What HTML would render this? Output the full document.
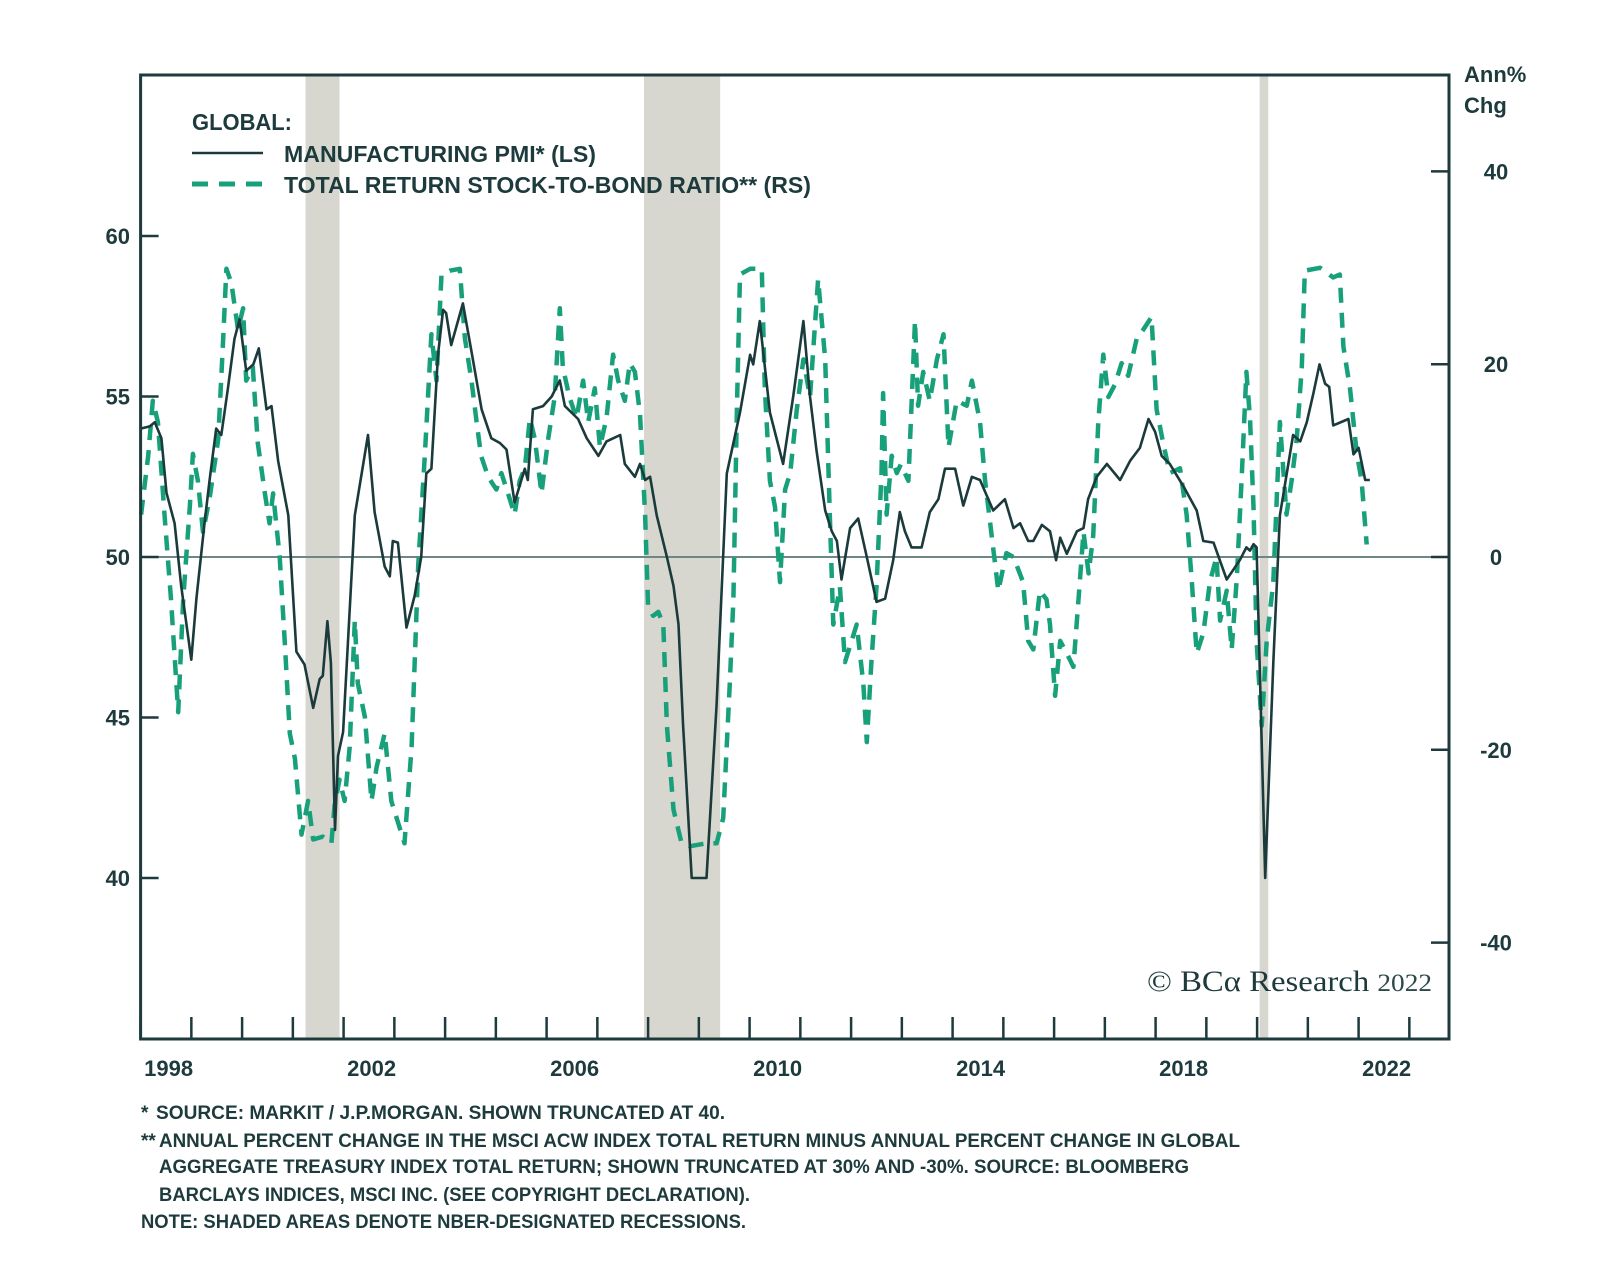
<!DOCTYPE html>
<html><head><meta charset="utf-8"><style>
html,body{margin:0;padding:0;background:#fff}
svg{display:block}
text{font-family:"Liberation Sans",sans-serif;fill:#1d3a3c}
</style></head><body>
<svg id="chart" width="1600" height="1282" viewBox="0 0 1600 1282" xmlns="http://www.w3.org/2000/svg">
<g id="bands"></g>
<g id="grid"></g>
<g id="series"></g>
<g id="axes"></g>
<g>
  <text x="192" y="130" font-size="23" font-weight="bold" textLength="100" lengthAdjust="spacingAndGlyphs">GLOBAL:</text>
  <line x1="192" y1="153" x2="263" y2="153" stroke="#1b3a3c" stroke-width="2.5"/>
  <text x="284" y="162" font-size="23" font-weight="bold" textLength="312" lengthAdjust="spacingAndGlyphs">MANUFACTURING PMI* (LS)</text>
  <line x1="192" y1="184" x2="266" y2="184" stroke="#17a07a" stroke-width="5" stroke-dasharray="16 11"/>
  <text x="284" y="193" font-size="23" font-weight="bold" textLength="527" lengthAdjust="spacingAndGlyphs">TOTAL RETURN STOCK-TO-BOND RATIO** (RS)</text>
</g>
<text x="1464" y="82" font-size="22" font-weight="bold">Ann%</text>
<text x="1464" y="113" font-size="22" font-weight="bold">Chg</text>
<text x="1147" y="991" font-size="30" textLength="285" lengthAdjust="spacingAndGlyphs" style="font-family:'Liberation Serif',serif">© BCα Research <tspan font-size="25" fill="#2c4a4a">2022</tspan></text>
<g font-size="19" font-weight="bold">
  <text x="141" y="1119">*</text>
  <text x="156" y="1119" textLength="569" lengthAdjust="spacingAndGlyphs">SOURCE: MARKIT / J.P.MORGAN. SHOWN TRUNCATED AT 40.</text>
  <text x="141" y="1147">**</text>
  <text x="159" y="1147" textLength="1081" lengthAdjust="spacingAndGlyphs">ANNUAL PERCENT CHANGE IN THE MSCI ACW INDEX TOTAL RETURN MINUS ANNUAL PERCENT CHANGE IN GLOBAL</text>
  <text x="159" y="1173" textLength="1030" lengthAdjust="spacingAndGlyphs">AGGREGATE TREASURY INDEX TOTAL RETURN; SHOWN TRUNCATED AT 30% AND -30%. SOURCE: BLOOMBERG</text>
  <text x="159" y="1201" textLength="591" lengthAdjust="spacingAndGlyphs">BARCLAYS INDICES, MSCI INC. (SEE COPYRIGHT DECLARATION).</text>
  <text x="141" y="1228" textLength="605" lengthAdjust="spacingAndGlyphs">NOTE: SHADED AREAS DENOTE NBER-DESIGNATED RECESSIONS.</text>
</g>
</svg>
<script>
const pmiDates=[1998.0,1998.18,1998.28,1998.41,1998.51,1998.67,1998.80,1999.00,1999.10,1999.26,1999.36,1999.49,1999.59,1999.72,1999.85,1999.95,2000.08,2000.22,2000.33,2000.48,2000.58,2000.71,2000.91,2001.07,2001.23,2001.40,2001.53,2001.59,2001.68,2001.75,2001.83,2001.89,2001.99,2002.22,2002.48,2002.61,2002.81,2002.91,2002.97,2003.07,2003.24,2003.40,2003.53,2003.63,2003.73,2003.86,2003.96,2004.02,2004.12,2004.35,2004.52,2004.72,2004.91,2005.08,2005.21,2005.37,2005.57,2005.63,2005.73,2005.93,2006.10,2006.26,2006.36,2006.62,2006.79,2007.02,2007.18,2007.45,2007.54,2007.74,2007.84,2007.94,2008.04,2008.17,2008.37,2008.50,2008.60,2008.69,2008.86,2009.15,2009.35,2009.55,2009.81,2010.01,2010.07,2010.20,2010.40,2010.66,2010.86,2011.06,2011.19,2011.32,2011.49,2011.62,2011.72,2011.81,2011.98,2012.14,2012.31,2012.50,2012.67,2012.83,2012.96,2013.06,2013.19,2013.39,2013.55,2013.72,2013.85,2014.05,2014.21,2014.38,2014.54,2014.80,2015.03,2015.20,2015.33,2015.49,2015.59,2015.76,2015.92,2016.04,2016.12,2016.25,2016.45,2016.58,2016.67,2016.84,2017.04,2017.30,2017.50,2017.69,2017.86,2017.99,2018.12,2018.28,2018.55,2018.81,2018.94,2019.14,2019.40,2019.66,2019.79,2019.86,2019.93,2019.99,2020.16,2020.32,2020.45,2020.71,2020.85,2020.98,2021.11,2021.23,2021.34,2021.42,2021.50,2021.80,2021.90,2022.0,2022.13,2022.22];
const pmiValues=[54.0,54.07,54.2,53.7,52.0,51.05,49.1,46.8,48.7,51.05,52.4,54.0,53.8,55.25,56.8,57.4,55.8,56.0,56.5,54.6,54.7,53.0,51.3,47.05,46.65,45.3,46.2,46.3,48.0,46.7,41.5,43.8,44.55,51.3,53.8,51.4,49.7,49.4,50.5,50.45,47.8,48.8,50.0,52.6,52.75,56.3,57.7,57.6,56.6,57.9,56.4,54.6,53.7,53.55,53.35,51.7,52.75,52.4,54.6,54.7,55.0,55.5,54.7,54.3,53.7,53.15,53.6,53.8,52.9,52.5,52.9,52.4,52.5,51.3,50.0,49.1,47.9,44.75,40.0,40.0,45.4,52.6,54.5,56.3,56.0,57.35,54.5,52.9,55.0,57.35,55.0,53.3,51.45,50.8,50.5,49.3,50.9,51.2,50.0,48.6,48.7,49.9,51.4,50.8,50.3,50.3,51.4,51.8,52.75,52.75,51.6,52.5,52.4,51.45,51.8,50.9,51.05,50.5,50.5,51.0,50.8,49.9,50.6,50.1,50.8,50.9,51.8,52.5,52.9,52.4,53.0,53.4,54.3,53.9,53.15,52.9,52.2,51.45,50.5,50.45,49.3,49.9,50.3,50.2,50.4,50.3,40.0,46.7,51.3,53.8,53.6,54.2,55.1,56.0,55.4,55.3,54.1,54.3,53.2,53.4,52.4,52.4];
const rsDates=[1998.01,1998.15,1998.24,1998.34,1998.47,1998.60,1998.74,1998.84,1998.97,1999.03,1999.13,1999.23,1999.36,1999.53,1999.62,1999.69,1999.79,1999.92,2000.02,2000.08,2000.21,2000.31,2000.45,2000.54,2000.61,2000.74,2000.84,2000.94,2001.04,2001.17,2001.30,2001.40,2001.59,2001.76,2001.82,2001.92,2002.02,2002.12,2002.22,2002.28,2002.42,2002.55,2002.65,2002.81,2002.94,2003.07,2003.20,2003.34,2003.47,2003.60,2003.73,2003.83,2003.93,2004.09,2004.29,2004.39,2004.52,2004.62,2004.71,2004.85,2005.01,2005.11,2005.24,2005.37,2005.47,2005.57,2005.67,2005.77,2005.90,2006.03,2006.16,2006.26,2006.32,2006.45,2006.59,2006.72,2006.82,2006.95,2007.05,2007.18,2007.31,2007.41,2007.54,2007.64,2007.74,2007.84,2007.94,2008.00,2008.10,2008.20,2008.30,2008.37,2008.50,2008.66,2008.83,2009.15,2009.35,2009.48,2009.61,2009.68,2009.75,2009.81,2010.01,2010.24,2010.30,2010.40,2010.50,2010.60,2010.70,2010.80,2010.93,2011.06,2011.19,2011.35,2011.49,2011.58,2011.65,2011.78,2011.88,2011.98,2012.11,2012.24,2012.31,2012.40,2012.50,2012.60,2012.63,2012.70,2012.80,2012.90,2012.98,2013.13,2013.26,2013.32,2013.42,2013.55,2013.69,2013.82,2013.92,2014.08,2014.28,2014.38,2014.54,2014.64,2014.80,2014.90,2015.06,2015.20,2015.39,2015.49,2015.59,2015.72,2015.85,2015.92,2016.02,2016.12,2016.25,2016.38,2016.48,2016.58,2016.68,2016.77,2016.87,2016.97,2017.07,2017.20,2017.33,2017.46,2017.63,2017.76,2017.92,2018.02,2018.15,2018.28,2018.48,2018.61,2018.71,2018.81,2018.94,2019.07,2019.20,2019.27,2019.40,2019.50,2019.60,2019.70,2019.79,2019.86,2019.93,2019.99,2020.09,2020.19,2020.32,2020.45,2020.58,2020.68,2020.78,2020.88,2020.94,2021.24,2021.50,2021.63,2021.70,2021.83,2021.96,2022.06,2022.16];
const rsValues=[4.4,10.5,16.2,14.0,4.4,-4.4,-16.1,-4.4,5.2,10.7,7.9,2.6,6.1,12.2,21.8,29.9,28.4,23.6,25.8,18.3,19.7,11.8,6.6,3.5,6.6,0,-8.7,-18.3,-20.9,-28.8,-25.3,-29.3,-29.0,-29.7,-25.8,-23.1,-25.3,-19.7,-6.6,-13.1,-16.6,-25.3,-21.8,-18.3,-25.3,-27.5,-29.7,-19.7,-0.9,10.5,23.1,18.3,29.3,29.7,29.9,22.7,18.3,14.0,10.5,8.3,7.0,8.7,6.6,4.4,7.9,9.2,14.4,12.2,6.6,12.2,16.6,25.8,19.7,16.6,14.4,18.3,14.0,17.5,11.4,14.4,21.0,18.3,16.2,20.1,19.2,14.8,4.4,-5.2,-6.1,-5.7,-7.0,-17.5,-26.2,-29.7,-30,-29.7,-29.7,-27.1,-13.1,-4.4,15.3,29.3,29.9,29.9,17.5,7.9,5.2,-2.6,7.0,8.7,15.3,20.5,16.6,28.8,20.5,4.4,-7.0,-3.1,-10.9,-9.2,-7.0,-13.1,-19.2,-10.9,-3.1,8.7,17.0,4.4,10.5,8.7,9.6,7.9,24.5,15.7,19.2,16.2,20.5,23.1,11.4,16.2,15.7,18.3,14.0,7.9,0.9,-3.5,0.4,0,-2.6,-8.7,-9.6,-3.5,-4.4,-7.0,-14.4,-8.7,-10.0,-11.4,-4.4,2.6,-1.7,2.2,14.0,21.0,16.6,17.9,20.1,18.8,22.7,23.6,24.9,15.3,11.8,8.7,9.2,4.4,-2.2,-10.0,-7.9,-2.6,0,-6.6,-3.5,-9.6,-2.2,8.7,19.2,14.4,5.2,-8.7,-17.5,-8.7,-2.6,14.0,4.4,7.9,12.2,19.7,29.7,30,29.0,29.3,21.8,17.5,10.9,7.9,1.3];
const leftTicks=[60,55,50,45,40];
const rightTicks=[40,20,0,-20,-40];
const yearLabels=[1998,2002,2006,2010,2014,2018,2022];
const recessionStarts=[2001.25,2007.92,2020.05];
const recessionEnds=[2001.92,2009.42,2020.22];

const L=140.6,R=1449,T=75,B=1039;
function xS(t){return L+(t-1998)*50.75;}
function yL(v){return 557-(v-50)*32.1;}
function yR(v){return 557-v*9.64;}
const NS='http://www.w3.org/2000/svg';
function mk(parent,tag,attrs){const e=document.createElementNS(NS,tag);for(const k in attrs)e.setAttribute(k,attrs[k]);document.getElementById(parent).appendChild(e);return e;}

for(let i=0;i<recessionStarts.length;i++){
  const r=mk('bands','rect',{x:xS(recessionStarts[i]),y:T,width:xS(recessionEnds[i])-xS(recessionStarts[i]),height:B-T,fill:'#d7d7cf'});
  
  
}
const z=mk('grid','line',{x1:L,x2:R,y1:yR(0),y2:yR(0),stroke:'#6d8784','stroke-width':2});



const rsPts=rsDates.map((d,i)=>xS(d).toFixed(1)+','+yR(rsValues[i]).toFixed(1)).join(' ');
const rsLine=mk('series','polyline',{points:rsPts,fill:'none',stroke:'#17a07a','stroke-width':4.5,'stroke-dasharray':'15 10','stroke-linejoin':'round'});


const pmiPts=pmiDates.map((d,i)=>xS(d).toFixed(1)+','+yL(pmiValues[i]).toFixed(1)).join(' ');
const pmiLine=mk('series','polyline',{points:pmiPts,fill:'none',stroke:'#1b3a3c','stroke-width':2.6,'stroke-linejoin':'round'});



const frame=mk('axes','rect',{x:L,y:T,width:R-L,height:B-T,fill:'none',stroke:'#1d3a3c','stroke-width':3});


for(const v of leftTicks){
  const tk=mk('axes','line',{x1:L,x2:L+18,y1:yL(v),y2:yL(v),stroke:'#1d3a3c','stroke-width':2.5});
  
  
  const tx=mk('axes','text',{x:130,y:yL(v)+8,'text-anchor':'end','font-size':22,'font-weight':'bold'});
  tx.textContent=v;
  
  
}
for(const v of rightTicks){
  const tk=mk('axes','line',{x1:R-18,x2:R,y1:yR(v),y2:yR(v),stroke:'#1d3a3c','stroke-width':2.5});
  
  
  const tx=mk('axes','text',{x:1496,y:yR(v)+8,'text-anchor':'middle','font-size':22,'font-weight':'bold'});
  tx.textContent=v;
  
  
}
for(let yr=1998;yr<=2023;yr++){
  const tk=mk('axes','line',{x1:xS(yr),x2:xS(yr),y1:B-22,y2:B,stroke:'#1d3a3c','stroke-width':2.5});
  
  
}
for(const yr of yearLabels){
  const tx=mk('axes','text',{x:xS(yr)+28,y:1076,'text-anchor':'middle','font-size':22,'font-weight':'bold'});
  tx.textContent=yr;
  
  
}
</script>
</body></html>
